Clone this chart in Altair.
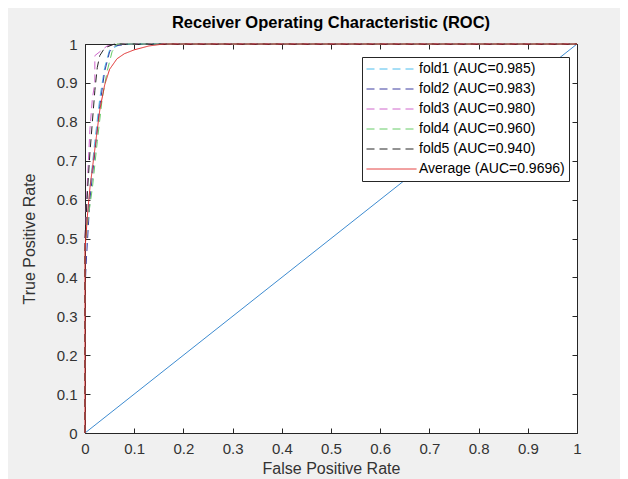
import altair as alt
import pandas as pd

# ---------------- data ----------------
series_names = [
    "fold1 (AUC=0.985)",
    "fold2 (AUC=0.983)",
    "fold3 (AUC=0.980)",
    "fold4 (AUC=0.960)",
    "fold5 (AUC=0.940)",
    "Average (AUC=0.9696)",
]
series_colors = ["#4dbeee", "#3c3ca0", "#d066cc", "#66cc66", "#262626", "#e02828"]
series_dashes = [[8, 5], [8, 5], [8, 5], [8, 5], [8, 5], [1, 0]]

fold1_fpr = [0, 0, 0.005, 0.01, 0.02, 0.03, 0.04, 0.05, 0.07, 0.1, 1]
fold1_tpr = [0, 0.45, 0.55, 0.63, 0.75, 0.86, 0.94, 0.985, 0.998, 1, 1]

fold2_fpr = [0, 0, 0.003, 0.01, 0.02, 0.03, 0.04, 0.05, 0.06, 0.09, 1]
fold2_tpr = [0, 0.37, 0.45, 0.6, 0.72, 0.84, 0.93, 0.98, 0.995, 1, 1]

fold3_fpr = [0, 0, 0.005, 0.01, 0.015, 0.02, 0.02, 0.045, 0.07, 1]
fold3_tpr = [0, 0.5, 0.65, 0.78, 0.86, 0.9, 0.97, 0.995, 1, 1]

fold4_fpr = [0, 0, 0.005, 0.015, 0.025, 0.035, 0.045, 0.055, 0.065, 1]
fold4_tpr = [0, 0.47, 0.54, 0.63, 0.75, 0.86, 0.93, 0.98, 1, 1]

fold5_fpr = [0, 0, 0.005, 0.01, 0.015, 0.02, 0.025, 0.03, 0.04, 0.06, 1]
fold5_tpr = [0, 0.5, 0.62, 0.72, 0.8, 0.88, 0.94, 0.97, 0.99, 1, 1]

avg_fpr = [0, 0, 0.005, 0.01, 0.02, 0.03, 0.04, 0.05, 0.065, 0.08, 0.1, 0.13, 0.16, 1]
avg_tpr = [0, 0.47, 0.56, 0.63, 0.73, 0.83, 0.895, 0.935, 0.962, 0.975, 0.985, 0.995, 1, 1]

diag_fpr = [0, 1]
diag_tpr = [0, 1]

tick_values = [0, 0.1, 0.2, 0.3, 0.4, 0.5, 0.6, 0.7, 0.8, 0.9, 1]

# ---------------- tables ----------------
curves = [
    (series_names[0], fold1_fpr, fold1_tpr),
    (series_names[1], fold2_fpr, fold2_tpr),
    (series_names[2], fold3_fpr, fold3_tpr),
    (series_names[3], fold4_fpr, fold4_tpr),
    (series_names[4], fold5_fpr, fold5_tpr),
    (series_names[5], avg_fpr, avg_tpr),
]
rows = []
for name, xs, ys in curves:
    for i, (a, b) in enumerate(zip(xs, ys)):
        rows.append({"series": name, "fpr": a, "tpr": b, "i": i})
df = pd.DataFrame(rows)
diag_df = pd.DataFrame({"fpr": diag_fpr, "tpr": diag_tpr})

FONT = "Liberation Sans"
AX = "#262626"

def sc():
    return alt.Scale(domain=[0, 1], nice=False, zero=False)

legend_kw = dict(
    title=None,
    orient="none",
    legendX=277,
    legendY=13,
    fillColor="white",
    strokeColor=AX,
    padding=4,
    symbolType="stroke",
    symbolSize=2500,
    symbolStrokeWidth=1,
    clipHeight=16,
    rowPadding=4,
    labelFontSize=14,
    labelFont=FONT,
    labelColor="#000000",
    labelOffset=2,
    cornerRadius=0,
)

# diagonal chance line + inward ticks on bottom/left
diag = alt.Chart(diag_df).mark_line(color="#3d8bd0", strokeWidth=1).encode(
    x=alt.X("fpr:Q", scale=sc(), axis=alt.Axis(
        orient="bottom", offset=-5, values=tick_values, labels=False, domain=False,
        grid=False, ticks=True, tickSize=5, tickColor=AX, title=None)),
    y=alt.Y("tpr:Q", scale=sc(), axis=alt.Axis(
        orient="left", offset=-5, values=tick_values, labels=False, domain=False,
        grid=False, ticks=True, tickSize=5, tickColor=AX, title=None)),
)

# inward ticks on top/right
box_ticks = alt.Chart(diag_df).mark_line(opacity=0).encode(
    x=alt.X("fpr:Q", scale=sc(), axis=alt.Axis(
        orient="top", offset=-5, values=tick_values, labels=False, domain=False,
        grid=False, ticks=True, tickSize=5, tickColor=AX, title=None)),
    y=alt.Y("tpr:Q", scale=sc(), axis=alt.Axis(
        orient="right", offset=-5, values=tick_values, labels=False, domain=False,
        grid=False, ticks=True, tickSize=5, tickColor=AX, title=None)),
)

lines = alt.Chart(df).mark_line(strokeWidth=1).encode(
    x=alt.X("fpr:Q", scale=sc(), axis=alt.Axis(
        orient="bottom", values=tick_values, format="~g", ticks=False, tickSize=0,
        domain=False, grid=False, labelFlush=False, labelPadding=8, labelFontSize=15,
        labelFont=FONT, labelColor="#333333", title="False Positive Rate",
        titleFontSize=16, titleFont=FONT, titleFontWeight="normal",
        titleColor="#333333", titlePadding=4)),
    y=alt.Y("tpr:Q", scale=sc(), axis=alt.Axis(
        orient="left", values=tick_values, format="~g", ticks=False, tickSize=0,
        domain=False, grid=False, labelFlush=False, labelPadding=8, labelFontSize=15,
        labelFont=FONT, labelColor="#333333", title="True Positive Rate",
        titleFontSize=16, titleFont=FONT, titleFontWeight="normal",
        titleColor="#333333", titlePadding=19)),
    color=alt.Color("series:N", scale=alt.Scale(domain=series_names, range=series_colors),
                    legend=alt.Legend(**legend_kw)),
    strokeDash=alt.StrokeDash("series:N", scale=alt.Scale(domain=series_names, range=series_dashes),
                              legend=alt.Legend(**legend_kw)),
    order="i:Q",
)

chart = (
    alt.layer(diag, box_ticks, lines)
    .resolve_scale(x="independent", y="independent")
    .properties(
        width=492,
        height=389,
        autosize=alt.AutoSizeParams(type="none"),
        padding={"left": 77, "top": 36, "right": 43, "bottom": 46},
        background="#f0f0f0",
        title=alt.TitleParams(
            "Receiver Operating Characteristic (ROC)",
            fontSize=16.5, fontWeight="bold", font=FONT, color="#000000",
            offset=6, anchor="middle"),
    )
    .configure_view(stroke=AX, strokeWidth=1, fill="white")
)

chart.save("out.html", embed_options={"renderer": "svg", "actions": False})
